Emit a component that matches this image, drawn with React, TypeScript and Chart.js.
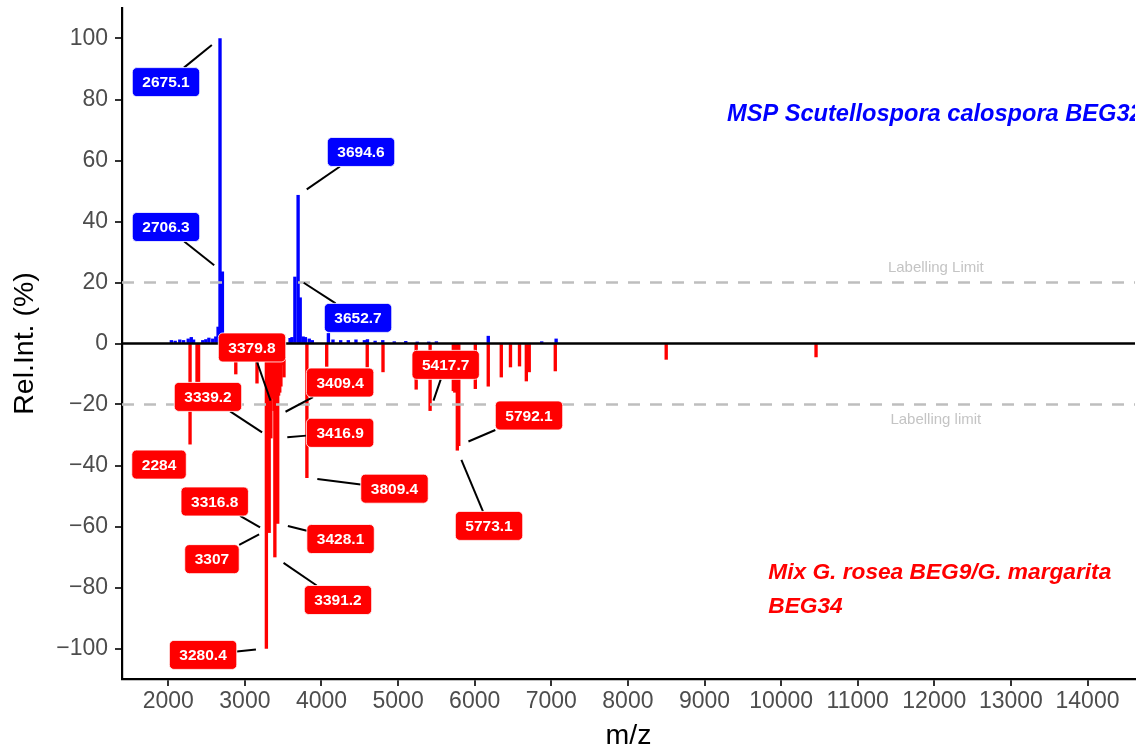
import React, { useEffect, useRef } from 'react';
import { Chart, registerables } from 'chart.js';

Chart.register(...registerables);

// ---------- data ----------
const blueMz = [2040, 2090, 2150, 2200, 2260, 2300, 2330, 2450, 2490, 2530, 2580, 2620, 2650, 2675.1, 2706.3, 2740,
  3590, 3615, 3652.7, 3694.6, 3722, 3760, 3790, 3840, 3880, 4090, 4150, 4250, 4350, 4450, 4560, 4600, 4700, 4800,
  4950, 5100, 5250, 5400, 5500, 6177, 6875, 7063];
const blueInt = [1.0, 0.8, 1.2, 1.0, 1.5, 2.0, 1.2, 1.0, 1.3, 1.8, 1.5, 2.2, 5.4, 100, 23.5, 1.5,
  1.7, 2.0, 21.8, 48.6, 15.0, 2.2, 2.0, 1.5, 1.0, 3.3, 1.2, 1.0, 1.0, 1.2, 1.0, 1.3, 0.8, 1.0,
  0.6, 0.7, 0.5, 0.5, 0.6, 2.4, 0.6, 1.5];

const redMz = [2284, 2375, 2395, 2881, 3158, 3280.4, 3290, 3307, 3316.8, 3325, 3339.2, 3350, 3365, 3379.8, 3391.2,
  3400, 3409.4, 3416.9, 3428.1, 3440, 3455, 3470, 3480, 3510, 3809.4, 4068, 4597, 4803, 5236, 5417.7, 5721, 5740,
  5773.1, 5792.1, 6008, 6177, 6347, 6467, 6585, 6674, 6712, 7052, 8500, 10456];
const redInt = [-33, -12.5, -12.5, -10, -13, -100, -17, -61, -62, -18, -31, -18, -17, -22, -70,
  -19, -24, -31, -59, -17, -16, -14, -7, -11, -44, -7.5, -7.7, -9.3, -15, -22, -15.5, -16,
  -35, -33.5, -14.8, -14, -11, -7.7, -7.4, -12.3, -9.3, -9, -5.2, -4.4];

const xTicks = [2000, 3000, 4000, 5000, 6000, 7000, 8000, 9000, 10000, 11000, 12000, 13000, 14000];
const yTicks = [-100, -80, -60, -40, -20, 0, 20, 40, 60, 80, 100];

const limitValues = [20, -20];
const limitTexts = ['Labelling Limit', 'Labelling limit'];

// labelled peaks (m/z) and where their boxes sit (data coordinates)
const blueLabelMz = [2675.1, 2706.3, 3694.6, 3652.7];
const blueBoxMz = [1970, 1970, 4516, 4477];
const blueBoxInt = [85.7, 38.2, 62.8, 8.4];

const redLabelMz = [3379.8, 3339.2, 3409.4, 3416.9, 2284, 3809.4, 3316.8, 3428.1, 3307, 3391.2, 3280.4, 5417.7, 5792.1, 5773.1];
const redBoxMz = [3093, 2518, 4243, 4243, 1879, 4953, 2606, 4249, 2570, 4215, 2454, 5621, 6709, 6187];
const redBoxInt = [-1.3, -17.5, -12.8, -29.3, -39.7, -47.6, -51.8, -64.1, -70.7, -84.1, -102.1, -7.0, -23.6, -59.8];

const blueTitle = 'MSP Scutellospora calospora BEG32';
const redTitleLines = ['Mix G. rosea BEG9/G. margarita', 'BEG34'];

const FONT = '"Liberation Sans", Arial, Helvetica, sans-serif';
const BLUE = '#0000ff';
const RED = '#ff0000';

function drawLabels(chart: any, mzs: number[], boxMz: number[], boxInt: number[], seriesMz: number[], seriesInt: number[], color: string) {
  const { ctx, scales } = chart;
  const x = scales.x, y = scales.y;
  ctx.font = 'bold 15.5px ' + FONT;
  const H = 29;
  const boxes = mzs.map((m, i) => {
    const txt = String(m);
    const w = ctx.measureText(txt).width + 20;
    const cx = x.getPixelForValue(boxMz[i]);
    const cy = y.getPixelForValue(boxInt[i]);
    const idx = seriesMz.indexOf(m);
    const px = x.getPixelForValue(m);
    const py = y.getPixelForValue(seriesInt[idx]);
    return { txt, w, cx, cy, px, py };
  });
  // segments
  ctx.strokeStyle = '#000';
  ctx.lineWidth = 2;
  ctx.setLineDash([]);
  for (const b of boxes) {
    const dx = b.cx - b.px, dy = b.cy - b.py;
    const dist = Math.hypot(dx, dy);
    if (dist < 1) continue;
    const ux = dx / dist, uy = dy / dist;
    const gap = 10.5;
    const sx = b.px + ux * gap, sy = b.py + uy * gap;
    const hw = b.w / 2, hh = H / 2;
    const tx = Math.abs(dx) > 0 ? hw / Math.abs(dx) : Infinity;
    const ty = Math.abs(dy) > 0 ? hh / Math.abs(dy) : Infinity;
    const t = Math.min(tx, ty);
    const ex = b.cx - dx * t, ey = b.cy - dy * t;
    const segLen = dist * (1 - t) - gap;
    if (segLen < 4) continue;
    ctx.beginPath();
    ctx.moveTo(sx, sy);
    ctx.lineTo(ex, ey);
    ctx.stroke();
  }
  // boxes
  for (const b of boxes) {
    const l = b.cx - b.w / 2, t = b.cy - H / 2;
    ctx.beginPath();
    ctx.roundRect(l, t, b.w, H, 4.5);
    ctx.fillStyle = color;
    ctx.fill();
    ctx.strokeStyle = '#ffffff';
    ctx.lineWidth = 0.8;
    ctx.stroke();
    ctx.fillStyle = '#ffffff';
    ctx.textAlign = 'center';
    ctx.textBaseline = 'middle';
    ctx.fillText(b.txt, b.cx, b.cy + 1);
  }
}

const annotPlugin = {
  id: 'spectrumAnnotations',
  afterDatasetsDraw(chart: any) {
    const { ctx, chartArea: ca, scales } = chart;
    const x = scales.x, y = scales.y;
    ctx.save();
    // labelling limits
    ctx.setLineDash([12, 10]);
    ctx.lineWidth = 2.5;
    ctx.strokeStyle = '#bebebe';
    for (const v of limitValues) {
      const py = y.getPixelForValue(v);
      ctx.beginPath();
      ctx.moveTo(ca.left, py);
      ctx.lineTo(ca.right, py);
      ctx.stroke();
    }
    ctx.setLineDash([]);
    // zero line
    const y0 = y.getPixelForValue(0);
    ctx.strokeStyle = '#000';
    ctx.lineWidth = 2.6;
    ctx.beginPath();
    ctx.moveTo(ca.left, y0);
    ctx.lineTo(ca.right, y0);
    ctx.stroke();
    // limit text
    ctx.font = '15px ' + FONT;
    ctx.fillStyle = '#c4c4c4';
    ctx.textAlign = 'center';
    ctx.textBaseline = 'middle';
    limitValues.forEach((v, i) => {
      ctx.fillText(limitTexts[i], x.getPixelForValue(12020), y.getPixelForValue(v > 0 ? v + 4.9 : v - 5.1));
    });
    // species titles (clipped to panel)
    ctx.save();
    ctx.beginPath();
    ctx.rect(ca.left, ca.top, ca.right - ca.left, ca.bottom - ca.top);
    ctx.clip();
    ctx.font = 'italic bold 23.6px ' + FONT;
    ctx.fillStyle = BLUE;
    ctx.textAlign = 'left';
    ctx.textBaseline = 'middle';
    ctx.fillText(blueTitle, x.getPixelForValue(9294), y.getPixelForValue(75.1));
    ctx.font = 'italic bold 22.7px ' + FONT;
    ctx.fillStyle = RED;
    redTitleLines.forEach((line, i) => {
      ctx.fillText(line, x.getPixelForValue(9833), y.getPixelForValue(-75.2 - i * 11.05));
    });
    ctx.restore();
    // peak labels
    drawLabels(chart, blueLabelMz, blueBoxMz, blueBoxInt, blueMz, blueInt, BLUE);
    drawLabels(chart, redLabelMz, redBoxMz, redBoxInt, redMz, redInt, RED);
    ctx.restore();
  },
};

export default function App() {
  const ref = useRef<HTMLCanvasElement | null>(null);
  useEffect(() => {
    if (!ref.current) return;
    const chart = new Chart(ref.current, {
      type: 'bar',
      data: {
        datasets: [
          {
            label: 'MSP',
            data: blueMz.map((m, i) => ({ x: m, y: blueInt[i] })),
            backgroundColor: BLUE,
            borderWidth: 0,
            barThickness: 2.7,
            grouped: false,
          } as any,
          {
            label: 'Mix',
            data: redMz.map((m, i) => ({ x: m, y: redInt[i] })),
            backgroundColor: RED,
            borderWidth: 0,
            barThickness: 2.7,
            grouped: false,
          } as any,
        ],
      },
      options: {
        animation: false,
        responsive: false,
        maintainAspectRatio: false,
        layout: { padding: { left: 0, right: 7, top: 8, bottom: 0 } },
        plugins: { legend: { display: false }, tooltip: { enabled: false } },
        scales: {
          x: {
            type: 'linear',
            min: 1395.6,
            max: 14620,
            offset: false,
            afterBuildTicks: (s: any) => { s.ticks = xTicks.map((v) => ({ value: v })); },
            afterFit: (s: any) => { s.height = 74; s.paddingLeft = 0; s.paddingRight = 0; },
            grid: { offset: false, drawOnChartArea: false, drawTicks: true, tickLength: 7, color: '#333333', lineWidth: 2 },
            border: { display: true, color: '#000000', width: 2.2 },
            ticks: {
              color: '#4d4d4d',
              font: { family: FONT, size: 23 },
              padding: 2,
              maxRotation: 0,
              autoSkip: false,
              callback: (v: any) => String(v),
            },
            title: {
              display: true,
              text: 'm/z',
              color: '#000000',
              font: { family: FONT, size: 28.5 },
              padding: { top: 0, bottom: 0 },
            },
          },
          y: {
            type: 'linear',
            min: -110,
            max: 110,
            afterBuildTicks: (s: any) => { s.ticks = yTicks.map((v) => ({ value: v })); },
            afterFit: (s: any) => { s.width = 122; s.paddingTop = 0; s.paddingBottom = 0; },
            grid: { offset: false, drawOnChartArea: false, drawTicks: true, tickLength: 7, color: '#333333', lineWidth: 2 },
            border: { display: true, color: '#000000', width: 2.2 },
            ticks: {
              color: '#4d4d4d',
              font: { family: FONT, size: 23 },
              padding: 7,
              callback: (v: any) => (v < 0 ? '\u2212' + Math.abs(v) : String(v)),
            },
            title: {
              display: true,
              text: 'Rel.Int. (%)',
              color: '#000000',
              font: { family: FONT, size: 28.5 },
              padding: { top: 8, bottom: 0 },
            },
          },
        },
      } as any,
      plugins: [annotPlugin],
    });
    return () => chart.destroy();
  }, []);
  return (
    <div style={{ position: 'absolute', left: 0, top: 0, width: 1142, height: 753, background: '#ffffff' }}>
      <canvas ref={ref} width={1142} height={753} style={{ display: 'block' }} />
    </div>
  );
}
